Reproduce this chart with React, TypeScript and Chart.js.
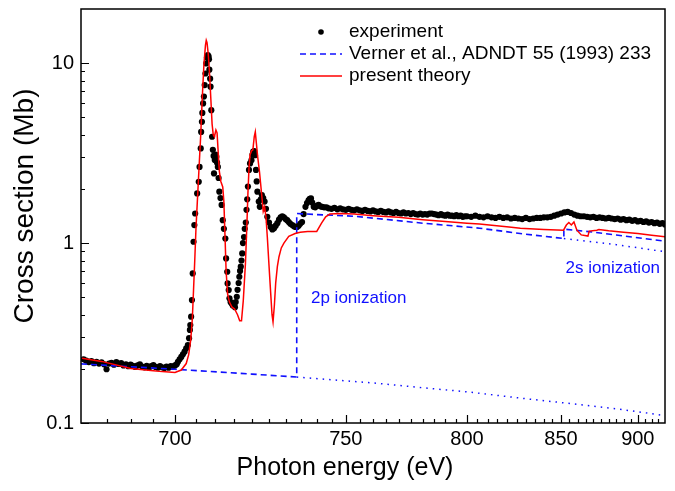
import { useEffect, useRef } from "react";
import { Chart, registerables } from "chart.js";

Chart.register(...registerables);

// x axis is logarithmic in (E - SHIFT)
const SHIFT = 600;
const X_MIN_E = 680;
const X_MAX_E = 920;
const Y_MIN = 0.1;
const Y_MAX = 20;

const X_MAJOR_LABELS = [700, 750, 800, 850, 900];
const Y_MAJOR_LABELS = [0.1, 1, 10];
const Y_MINOR = [0.2, 0.3, 0.4, 0.5, 0.6, 0.7, 0.8, 0.9, 2, 3, 4, 5, 6, 7, 8, 9];

const X_TITLE = "Photon energy (eV)";
const Y_TITLE = "Cross section (Mb)";

// experiment (black dots)
const expE = [
  680.5, 681, 681.5, 682, 682.5, 683, 683.5, 684, 684.5, 685, 685.5, 686, 686.5, 687, 687.5, 688, 688.5, 689, 689.5, 690,
  690.5, 691, 691.5, 692, 692.5, 693, 693.5, 694, 694.5, 695, 695.5, 696, 696.5, 697, 697.5, 698, 698.5, 699, 699.5, 700,
  700.4, 700.7, 701.1, 701.5, 701.9, 702.3, 702.7, 703.1, 703.4, 703.6, 703.7, 703.9, 704.1, 704.3, 704.5, 704.7, 704.9,
  705.4, 705.8, 706.0, 706.3, 706.4, 706.6, 706.7, 706.9, 707.1, 707.3, 707.5, 707.7, 707.9, 708.1, 708.3, 708.4, 708.5,
  708.7, 708.8, 709.0, 709.2, 709.4, 709.6, 709.7, 709.9, 710.1, 710.3, 710.5, 710.7, 710.9, 711.1, 711.4, 711.7, 712.0,
  712.3, 712.7, 712.9, 713.2, 713.3, 713.6, 713.8, 714.1, 714.4, 714.7, 715.1, 715.3, 715.5, 715.8, 716.0, 716.3, 716.5,
  716.7, 716.9, 717.1, 717.3, 717.5, 717.8, 718.0, 718.3, 718.5, 718.7, 718.9, 719.2, 719.5, 719.9, 720.2, 720.4, 720.7,
  720.9, 721.2, 721.4, 721.6, 722.0, 722.3, 722.6, 722.9, 723.3, 723.7, 724.1, 724.5, 725.0, 725.5, 726.0, 726.5, 727.0,
  727.5, 728.0, 728.5, 729.0, 729.5, 730.0, 730.5, 731.0, 731.5, 732.1, 732.6, 733.1, 733.6, 734.1, 734.6, 735.2, 735.7,
  736.3, 736.8, 737.3, 737.7, 738.1, 738.5, 739.0, 739.5, 740.0, 740.6, 741.2, 741.8, 742.5, 743.3, 744.0,
  745, 746, 747, 748, 749, 750, 751, 752, 753, 754, 755, 756, 757, 758, 759, 760, 761, 762, 763, 764, 765, 766, 767, 768,
  769, 770, 771, 772, 773, 774, 775, 776, 777, 778, 779, 780, 781, 782, 783, 784, 785, 786, 787, 788, 789, 790, 791, 792,
  793, 794, 795, 796, 797, 798, 799, 800,
  802, 804, 806, 808, 810, 812, 814, 816, 818, 820, 822, 824, 826, 828, 830, 832, 834, 836, 838, 840, 842, 844, 846, 848,
  850, 852, 854, 856, 858, 860, 862, 864, 866, 868, 870, 872, 874, 876, 878, 880, 882, 884, 886, 888, 890, 892, 894, 896,
  898, 900, 902, 904, 906, 908, 910, 912, 914, 916, 918, 920,
];
const expV = [
  0.226, 0.222, 0.218, 0.221, 0.215, 0.219, 0.214, 0.217, 0.212, 0.199, 0.214, 0.216, 0.211, 0.218, 0.213, 0.215, 0.209, 0.212, 0.207, 0.211,
  0.208, 0.205, 0.209, 0.212, 0.206, 0.204, 0.208, 0.203, 0.207, 0.21, 0.205, 0.203, 0.207, 0.204, 0.202, 0.206, 0.203, 0.207, 0.205, 0.209,
  0.212, 0.219, 0.226, 0.233, 0.241, 0.249, 0.26, 0.271, 0.296, 0.329, 0.35, 0.39, 0.482, 0.678, 1.017, 1.259, 1.46,
  1.888, 2.19, 2.65, 3.36, 4.15, 4.72, 5.29, 5.97, 6.52, 7.55, 8.76, 9.96, 10.8, 11.1, 10.9, 10.5, 9.2,
  8.2, 7.4, 5.48, 3.9, 3.3, 3.05, 2.44, 2.9, 3.1, 3.02, 2.8, 2.65, 2.3, 1.93, 1.78, 1.63, 1.34,
  1.2, 1.06, 0.822, 0.693, 0.597, 0.548, 0.493, 0.47, 0.462, 0.45, 0.452, 0.44, 0.47, 0.503, 0.55, 0.6, 0.65,
  0.7, 0.739, 0.8, 0.876, 1.0, 1.08, 1.2, 1.3, 1.53, 1.75, 2.06, 2.55, 2.77, 2.89, 3.1, 3.22, 3.25,
  3.08, 2.55, 2.2, 1.93, 1.7, 1.59, 1.75, 1.85, 1.78, 1.7, 1.55, 1.4, 1.3, 1.23, 1.19, 1.21, 1.25,
  1.29, 1.35, 1.39, 1.41, 1.39, 1.36, 1.34, 1.31, 1.28, 1.26, 1.24, 1.23, 1.23, 1.25, 1.28, 1.31, 1.45,
  1.59, 1.67, 1.73, 1.76, 1.77, 1.68, 1.59, 1.58, 1.61, 1.63, 1.6, 1.59, 1.58, 1.58, 1.56,
  1.55, 1.57, 1.54, 1.56, 1.54, 1.53, 1.55, 1.53, 1.52, 1.54, 1.52, 1.51, 1.53, 1.51, 1.5, 1.52, 1.5, 1.49, 1.51, 1.49, 1.48, 1.5, 1.48, 1.47,
  1.49, 1.47, 1.46, 1.48, 1.46, 1.47, 1.45, 1.47, 1.45, 1.44, 1.46, 1.44, 1.45, 1.44, 1.46, 1.46, 1.45, 1.44, 1.43, 1.45, 1.43, 1.42, 1.44, 1.42,
  1.42, 1.41, 1.43, 1.41, 1.42, 1.4, 1.41, 1.41,
  1.4, 1.42, 1.4, 1.39, 1.41, 1.39, 1.38, 1.4, 1.38, 1.39, 1.37, 1.38, 1.37, 1.36, 1.38, 1.36, 1.37, 1.38, 1.38, 1.39, 1.39, 1.4, 1.42, 1.44,
  1.46, 1.48, 1.49, 1.47, 1.44, 1.42, 1.41, 1.41, 1.4, 1.39, 1.4, 1.38, 1.39, 1.38, 1.37, 1.38, 1.37, 1.36, 1.37, 1.35, 1.36, 1.34, 1.35, 1.33,
  1.34, 1.32, 1.33, 1.31, 1.32, 1.3, 1.31, 1.29, 1.3, 1.28, 1.29, 1.27,
];

// Verner et al. (blue dashed)
const vernerE = [680, 700, 720, 733.5, 733.5, 740, 753, 780, 806, 830, 851.7, 851.7, 870, 885, 900, 920];
const vernerV = [0.213, 0.199, 0.187, 0.18, 1.46, 1.44, 1.41, 1.29, 1.21, 1.12, 1.06, 1.196, 1.15, 1.11, 1.07, 1.026];
// continuation below the 2p edge (blue dotted)
const below2pE = [733.5, 760, 780, 800, 834, 860, 885, 920];
const below2pV = [0.18, 0.167, 0.157, 0.149, 0.135, 0.127, 0.12, 0.11];
// continuation below the 2s edge (blue dotted)
const below2sE = [851.7, 885, 920];
const below2sV = [1.06, 0.98, 0.895];

// present theory (red)
const theoryE = [
  680.2, 684, 690, 695, 697, 700, 701.5, 702.7, 703.3, 703.8, 704.2, 704.5, 704.8, 705.1, 705.5, 705.9, 706.3, 706.7,
  707.1, 707.5, 707.7, 707.9, 708.2, 708.5, 708.9, 709.2, 709.5, 709.8, 710.2, 710.5, 710.8, 711.1, 711.5, 712.0, 712.3,
  712.6, 712.9, 713.3, 713.8, 714.5, 715.2, 716.0, 716.6, 717.1, 717.6, 718.2, 718.6, 718.9, 719.2, 719.5, 719.9, 720.3,
  720.7, 721.0, 721.3, 721.7, 722.2, 722.9, 723.3, 723.7, 724.1, 724.5, 725.0, 725.5, 725.9, 726.2, 726.6, 727.0, 727.5,
  728.0, 728.7, 729.5, 731.0, 733.0, 734.6, 737, 740.0, 741.6, 743, 744.4, 748, 753, 760, 770, 780, 790, 800, 806, 821,
  827, 840, 851.5, 853.2, 854.7, 856.2, 857.8, 859.6, 862.3, 866.5, 867.3, 872.2, 873.5, 880, 890, 900, 910, 920,
];
const theoryV = [
  0.229, 0.22, 0.201, 0.195, 0.193, 0.191, 0.197, 0.214, 0.24, 0.29, 0.38, 0.55, 0.8, 1.2, 1.8, 2.7, 4.0, 6.5,
  9.8, 12.6, 13.4, 13.0, 11.3, 9.1, 6.2, 4.6, 4.0, 3.9, 4.25, 4.1, 3.2, 2.5, 2.2, 2.05, 1.7,
  1.1, 0.7, 0.52, 0.47, 0.44, 0.43, 0.4, 0.37, 0.37, 0.48, 0.77, 1.25, 1.9, 2.6, 3.1, 3.25, 3.3,
  3.9, 4.15, 3.6, 3.0, 2.5, 1.81, 1.5, 1.59, 1.4, 1.08, 0.75, 0.527, 0.4, 0.365, 0.45, 0.6, 0.74,
  0.84, 0.94, 1.0, 1.09, 1.13, 1.15, 1.16, 1.16, 1.29, 1.4, 1.45, 1.46, 1.45, 1.42, 1.39, 1.35, 1.32, 1.29, 1.275, 1.23,
  1.21, 1.19, 1.18, 1.26, 1.3, 1.26, 1.31, 1.18, 1.11, 1.094, 1.166, 1.18, 1.19, 1.17, 1.15, 1.13, 1.105, 1.084,
];

const LEGEND_LABELS = ["experiment", "Verner et al., ADNDT 55 (1993) 233", "present theory"];
const NOTE_2P = { text: "2p ionization", e: 738.1, v: 0.495 };
const NOTE_2S = { text: "2s ionization", e: 852.7, v: 0.726 };

const FONT = "'Liberation Sans', Arial, Helvetica, sans-serif";
const BLUE = "#1010ff";
const RED = "#ff0000";

const pts = (xs: number[], ys: number[]) => xs.map((e, i) => ({ x: e - SHIFT, y: ys[i] }));

const xMinorE: number[] = [];
for (let e = 685; e <= 915; e += 5) xMinorE.push(e);

const near = (a: number, b: number) => Math.abs(a - b) < 1e-6 * Math.max(1, Math.abs(b));

const decorPlugin = {
  id: "decor",
  afterDatasetsDraw(chart: any) {
    const { ctx, chartArea, scales } = chart;
    const { left, right, top, bottom } = chartArea;
    const xs = scales.x;
    const ys = scales.y;
    ctx.save();
    // inward ticks
    ctx.strokeStyle = "#000";
    ctx.lineWidth = 1.2;
    ctx.beginPath();
    for (const e of xMinorE) {
      const major = X_MAJOR_LABELS.includes(e);
      const px = Math.round(xs.getPixelForValue(e - SHIFT)) + 0.5;
      ctx.moveTo(px, bottom);
      ctx.lineTo(px, bottom - (major ? 8 : 4));
    }
    for (const v of [...Y_MAJOR_LABELS, ...Y_MINOR]) {
      const major = Y_MAJOR_LABELS.some((m) => near(m, v));
      const py = Math.round(ys.getPixelForValue(v)) + 0.5;
      ctx.moveTo(left, py);
      ctx.lineTo(left + (major ? 8 : 4), py);
    }
    ctx.stroke();
    // frame
    ctx.lineWidth = 1.5;
    ctx.strokeRect(left, top, right - left, bottom - top);

    // legend
    ctx.font = `19px ${FONT}`;
    ctx.textBaseline = "middle";
    ctx.textAlign = "left";
    ctx.fillStyle = "#000";
    const lx0 = 300, lx1 = 342, tx = 349;
    const rows = [32, 54, 76];
    ctx.beginPath();
    ctx.arc(321, rows[0], 2.8, 0, Math.PI * 2);
    ctx.fill();
    ctx.fillText(LEGEND_LABELS[0], tx, rows[0]);
    ctx.strokeStyle = BLUE;
    ctx.lineWidth = 1.5;
    ctx.setLineDash([6, 4]);
    ctx.beginPath();
    ctx.moveTo(lx0, rows[1]);
    ctx.lineTo(lx1, rows[1]);
    ctx.stroke();
    ctx.setLineDash([]);
    ctx.fillText(LEGEND_LABELS[1], tx, rows[1]);
    ctx.strokeStyle = RED;
    ctx.beginPath();
    ctx.moveTo(lx0, rows[2]);
    ctx.lineTo(lx1, rows[2]);
    ctx.stroke();
    ctx.fillText(LEGEND_LABELS[2], tx, rows[2]);

    // annotations
    ctx.fillStyle = BLUE;
    ctx.font = `17px ${FONT}`;
    for (const n of [NOTE_2P, NOTE_2S]) {
      ctx.fillText(n.text, xs.getPixelForValue(n.e - SHIFT), ys.getPixelForValue(n.v));
    }

    // axis titles
    ctx.fillStyle = "#000";
    ctx.font = `25px ${FONT}`;
    ctx.textAlign = "center";
    ctx.fillText(X_TITLE, 345, 468);
    ctx.save();
    ctx.translate(25, 206);
    ctx.rotate(-Math.PI / 2);
    ctx.font = `28px ${FONT}`;
    ctx.fillText(Y_TITLE, 0, 0);
    ctx.restore();
    ctx.restore();
  },
};

export default function App() {
  const ref = useRef<HTMLCanvasElement | null>(null);
  useEffect(() => {
    if (!ref.current) return;
    const chart = new Chart(ref.current, {
      type: "line",
      data: {
        datasets: [
          {
            label: LEGEND_LABELS[2],
            data: pts(theoryE, theoryV),
            borderColor: RED,
            borderWidth: 1.5,
            pointRadius: 0,
            tension: 0,
            order: 0,
          },
          {
            label: LEGEND_LABELS[1],
            data: pts(vernerE, vernerV),
            borderColor: BLUE,
            borderWidth: 1.6,
            borderDash: [6, 4],
            pointRadius: 0,
            order: 1,
          },
          {
            label: "below 2p",
            data: pts(below2pE, below2pV),
            borderColor: BLUE,
            borderWidth: 1.5,
            borderDash: [1.5, 5],
            pointRadius: 0,
            order: 1,
          },
          {
            label: "below 2s",
            data: pts(below2sE, below2sV),
            borderColor: BLUE,
            borderWidth: 1.5,
            borderDash: [1.5, 5],
            pointRadius: 0,
            order: 1,
          },
          {
            label: LEGEND_LABELS[0],
            data: pts(expE, expV),
            showLine: false,
            pointRadius: 3.1,
            pointBorderWidth: 0,
            pointBackgroundColor: "#000",
            borderColor: "#000",
            order: 2,
          },
        ],
      },
      options: {
        animation: false,
        responsive: false,
        devicePixelRatio: 1,
        parsing: false as any,
        layout: { padding: { top: 9, right: 10, left: 0, bottom: 0 } },
        plugins: { legend: { display: false }, tooltip: { enabled: false } },
        scales: {
          x: {
            type: "logarithmic",
            min: X_MIN_E - SHIFT,
            max: X_MAX_E - SHIFT,
            grid: { display: false, drawTicks: false },
            border: { display: false },
            afterBuildTicks: (s: any) => {
              s.ticks = xMinorE.map((e) => ({ value: e - SHIFT }));
            },
            afterFit: (s: any) => {
              s.height = 68;
              s.paddingLeft = 0;
              s.paddingRight = 0;
            },
            ticks: {
              autoSkip: false,
              maxRotation: 0,
              padding: 4,
              color: "#000",
              font: { family: FONT, size: 20 },
              callback: (v: any) => {
                const e = Math.round(Number(v) + SHIFT);
                return X_MAJOR_LABELS.includes(e) ? String(e) : "";
              },
            },
            title: { display: false },
          },
          y: {
            type: "logarithmic",
            min: Y_MIN,
            max: Y_MAX,
            grid: { display: false, drawTicks: false },
            border: { display: false },
            afterBuildTicks: (s: any) => {
              s.ticks = [...Y_MAJOR_LABELS, ...Y_MINOR].sort((a, b) => a - b).map((v) => ({ value: v }));
            },
            afterFit: (s: any) => {
              s.width = 81;
              s.paddingTop = 0;
              s.paddingBottom = 0;
            },
            ticks: {
              autoSkip: false,
              padding: 7,
              color: "#000",
              font: { family: FONT, size: 20 },
              callback: (v: any) => {
                const n = Number(v);
                const m = Y_MAJOR_LABELS.find((t) => near(t, n));
                return m !== undefined ? String(m) : "";
              },
            },
            title: { display: false },
          },
        },
      },
      plugins: [decorPlugin],
    });
    return () => chart.destroy();
  }, []);
  return (
    <div style={{ position: "fixed", left: 0, top: 0, width: 675, height: 491, background: "#fff" }}>
      <canvas ref={ref} width={675} height={491} style={{ width: 675, height: 491, display: "block" }} />
    </div>
  );
}
